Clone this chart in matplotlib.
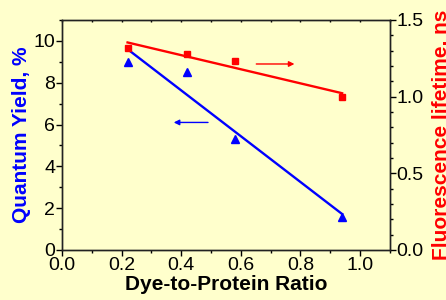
import numpy as np
import matplotlib
matplotlib.use("Agg")
import matplotlib.pyplot as plt
from matplotlib.ticker import MultipleLocator, FormatStrFormatter

plt.rcParams['font.family'] = ['Liberation Sans', 'DejaVu Sans']

# data
ratio = [0.22, 0.42, 0.58, 0.94]
quantum_yield = [9.0, 8.5, 5.3, 1.6]      # %
lifetime = [1.32, 1.275, 1.235, 0.995]    # ns

bg = '#FFFFCC'
fig = plt.figure(figsize=(4.46, 3.0), dpi=100, facecolor=bg)
ax = fig.add_axes([0.139, 0.1667, 0.735, 0.7667], facecolor=bg)
ax2 = ax.twinx()

# quantum yield (left axis)
ax.plot(ratio, quantum_yield, '^', color='#0000FF', ms=6, ls='none')
k, b = np.polyfit(ratio, quantum_yield, 1)
xs = np.array([ratio[0], ratio[-1]])
ax.plot(xs, k * xs + b, color='#0000FF', lw=1.7)

# lifetime (right axis)
ax2.plot(ratio, lifetime, 's', color='#FF0000', ms=5, ls='none')
k2, b2 = np.polyfit(ratio, lifetime, 1)
ax2.plot(xs, k2 * xs + b2, color='#FF0000', lw=1.7)

# arrows telling which axis belongs to which series
ax.annotate('', xy=(0.375, 6.1), xytext=(0.49, 6.1),
            arrowprops=dict(arrowstyle='-|>', color='#0000FF', lw=1,
                            mutation_scale=8, shrinkA=0, shrinkB=0))
ax2.annotate('', xy=(0.78, 1.213), xytext=(0.652, 1.213),
             arrowprops=dict(arrowstyle='-|>', color='#FF0000', lw=1,
                             mutation_scale=8, shrinkA=0, shrinkB=0))

ax.set_xlim(0, 1.1)
ax.set_ylim(0, 11)
ax2.set_ylim(0, 1.5)

ax.xaxis.set_major_locator(MultipleLocator(0.2))
ax.xaxis.set_minor_locator(MultipleLocator(0.1))
ax.yaxis.set_major_locator(MultipleLocator(2))
ax.yaxis.set_minor_locator(MultipleLocator(1))
ax2.yaxis.set_major_locator(MultipleLocator(0.5))
ax2.yaxis.set_minor_locator(MultipleLocator(0.1))
ax.xaxis.set_major_formatter(FormatStrFormatter('%.1f'))
ax2.yaxis.set_major_formatter(FormatStrFormatter('%.1f'))

ax.tick_params(axis='both', which='major', length=4, width=1, labelsize=14,
               direction='out', pad=1)
ax.tick_params(axis='both', which='minor', length=2, width=1, direction='out')
ax2.tick_params(axis='y', which='major', length=4, width=1, labelsize=14, pad=1)
ax2.tick_params(axis='y', which='minor', length=2, width=1)

# tiny ticks along the top edge
top = ax.secondary_xaxis('top')
top.xaxis.set_major_locator(MultipleLocator(0.1))
top.tick_params(axis='x', length=1.5, width=1, direction='in', labeltop=False)

for a in (ax, ax2):
    for s in a.spines.values():
        s.set_color('#222222')
        s.set_linewidth(1)
top.spines['top'].set_visible(False)

ax.set_xlabel('Dye-to-Protein Ratio', fontsize=15, fontweight='bold', labelpad=1)
ax.set_ylabel('Quantum Yield, %', fontsize=15, fontweight='bold', color='#0000FF', labelpad=2)
ax2.set_ylabel('Fluorescence lifetime, ns', fontsize=15, fontweight='bold', color='#FF0000', labelpad=6)

fig.savefig('out.png', dpi=100, facecolor=bg)
